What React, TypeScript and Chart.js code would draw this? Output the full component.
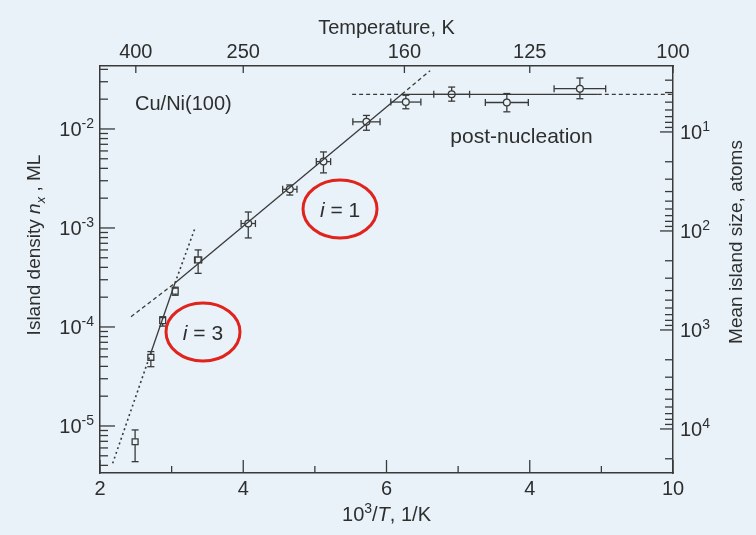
import React, { useEffect, useRef } from 'react';
import { Chart, registerables } from 'chart.js';

Chart.register(...registerables);

// Island density of Cu on Ni(100) versus inverse deposition temperature (10^3/T, 1/K)
const invTemperature = [2.49, 2.71, 2.875, 3.05, 3.37, 4.07, 4.65, 5.12, 5.72, 6.27, 6.91, 7.68, 8.7];
const islandDensity = [6.93e-6, 4.94e-5, 1.16e-4, 2.3e-4, 4.75e-4, 1.11e-3, 2.46e-3, 4.68e-3, 1.18e-2, 1.87e-2, 2.24e-2, 1.85e-2, 2.55e-2];
const densityUpper = [9.12e-6, 5.64e-5, 1.27e-4, 2.52e-4, 6.0e-4, 1.45e-3, 2.72e-3, 5.86e-3, 1.37e-2, 2.19e-2, 2.65e-2, 2.28e-2, 3.27e-2];
const densityLower = [4.36e-6, 3.97e-5, 1.02e-4, 2.09e-4, 3.48e-4, 7.93e-4, 2.15e-3, 3.6e-3, 9.7e-3, 1.6e-2, 1.91e-2, 1.49e-2, 2.02e-2];
const invTemperatureErr = [0, 0, 0, 0, 0.05, 0.1, 0.1, 0.1, 0.19, 0.21, 0.25, 0.3, 0.36];
const markerStyle = ['rect', 'rect', 'rect', 'rect', 'rect', 'circle', 'circle', 'circle', 'circle', 'circle', 'circle', 'circle', 'circle'];

// Nucleation regimes: critical nucleus i = 3, i = 1 and post-nucleation saturation
const i3Lower = [{ x: 2.177, y: 4.2e-6 }, { x: 2.712, y: 5.52e-5 }];
const i3Fit = [{ x: 2.712, y: 5.52e-5 }, { x: 3.047, y: 2.78e-4 }];
const i3Upper = [{ x: 3.047, y: 2.78e-4 }, { x: 3.327, y: 1.0e-3 }];
const i1Lower = [{ x: 2.433, y: 1.27e-4 }, { x: 3.047, y: 2.78e-4 }];
const i1Fit = [{ x: 3.047, y: 2.78e-4 }, { x: 6.214, y: 2.24e-2 }];
const i1Upper = [{ x: 6.214, y: 2.24e-2 }, { x: 6.609, y: 3.88e-2 }];
const plateauLeft = [{ x: 5.52, y: 2.24e-2 }, { x: 6.214, y: 2.24e-2 }];
const plateauFit = [{ x: 6.214, y: 2.24e-2 }, { x: 8.95, y: 2.24e-2 }];
const plateauRight = [{ x: 8.95, y: 2.24e-2 }, { x: 10, y: 2.24e-2 }];

// Axis ranges and ticks
const X_MIN = 2;
const X_MAX = 10;
const DENSITY_MIN = 3.35e-6;
const DENSITY_MAX = 0.04325;
const COVERAGE = 0.0933; // mean island size = coverage / density
const bottomTicks = [2, 4, 6, 8, 10];
const bottomTickLabels = ['2', '4', '6', '4', '10'];
const bottomMinorTicks = [3, 5, 7, 9];
const temperatureTicks = [400, 250, 160, 125, 100];
const densityDecades = [-5, -4, -3, -2];
const sizeDecades = [1, 2, 3, 4];

// Text placed in data coordinates
const regimeLabels = [
  { label: '1', x: 5.351, y: 1.556e-3 },
  { label: '3', x: 3.438, y: 8.9e-5 },
];
const systemLabel = { text: 'Cu/Ni(100)', x: 2.489, y: 1.83e-2 };
const plateauLabel = { text: 'post-nucleation', x: 7.885, y: 8.7e-3 };

const BG = '#e8f2f8';
const INK = '#2e2e2e';
const LINE = '#3a3a3a';
const RED = '#e0231d';
const FONT = '"Liberation Sans", Arial, Helvetica, sans-serif';

type Seg = { t: string; italic?: boolean; sup?: boolean; sub?: boolean };

const fontOf = (size: number, italic = false) => `${italic ? 'italic ' : ''}${size}px ${FONT}`;

function drawSegs(ctx: CanvasRenderingContext2D, segs: Seg[], x: number, y: number, size: number, align: 'left' | 'center' | 'right') {
  const small = Math.round(size * 0.68);
  const widths = segs.map((s) => {
    ctx.font = fontOf(s.sup || s.sub ? small : size, s.italic);
    return ctx.measureText(s.t).width;
  });
  const total = widths.reduce((a, b) => a + b, 0);
  let cx = align === 'left' ? x : align === 'center' ? x - total / 2 : x - total;
  const base = y + size * 0.36;
  ctx.textAlign = 'left';
  ctx.textBaseline = 'alphabetic';
  ctx.fillStyle = INK;
  segs.forEach((s, i) => {
    ctx.font = fontOf(s.sup || s.sub ? small : size, s.italic);
    const dy = s.sup ? -size * 0.42 : s.sub ? size * 0.25 : 0;
    ctx.fillText(s.t, cx, base + dy);
    cx += widths[i];
  });
}

function strokeLine(ctx: CanvasRenderingContext2D, x1: number, y1: number, x2: number, y2: number) {
  ctx.beginPath();
  ctx.moveTo(x1, y1);
  ctx.lineTo(x2, y2);
  ctx.stroke();
}

const POINTS_INDEX = 9;

const overlay = {
  id: 'overlay',
  beforeDraw(chart: any) {
    const ctx = chart.ctx as CanvasRenderingContext2D;
    ctx.save();
    ctx.fillStyle = BG;
    ctx.fillRect(0, 0, chart.width, chart.height);
    ctx.restore();
  },
  beforeDatasetDraw(chart: any, args: any) {
    if (args.index !== POINTS_INDEX) return;
    const ctx = chart.ctx as CanvasRenderingContext2D;
    const xs = chart.scales.x;
    const ys = chart.scales.y;
    ctx.save();
    ctx.strokeStyle = LINE;
    ctx.lineWidth = 1.3;
    invTemperature.forEach((t, i) => {
      const px = xs.getPixelForValue(t);
      const py = ys.getPixelForValue(islandDensity[i]);
      const hi = ys.getPixelForValue(densityUpper[i]);
      const lo = ys.getPixelForValue(densityLower[i]);
      strokeLine(ctx, px, hi, px, lo);
      strokeLine(ctx, px - 3.5, hi, px + 3.5, hi);
      strokeLine(ctx, px - 3.5, lo, px + 3.5, lo);
      const e = invTemperatureErr[i];
      if (e > 0) {
        const l = xs.getPixelForValue(t - e);
        const r = xs.getPixelForValue(t + e);
        strokeLine(ctx, l, py, r, py);
        strokeLine(ctx, l, py - 3.5, l, py + 3.5);
        strokeLine(ctx, r, py - 3.5, r, py + 3.5);
      }
    });
    ctx.restore();
  },
  afterDraw(chart: any) {
    const ctx = chart.ctx as CanvasRenderingContext2D;
    const { left, right, top, bottom } = chart.chartArea;
    const xs = chart.scales.x;
    const xt = chart.scales.xTop;
    const ys = chart.scales.y;
    const y2 = chart.scales.y2;
    ctx.save();
    ctx.strokeStyle = LINE;
    ctx.lineWidth = 1.3;

    // inward tick marks
    bottomTicks.forEach((v) => {
      const px = xs.getPixelForValue(v);
      strokeLine(ctx, px, bottom, px, bottom - 13);
    });
    bottomMinorTicks.forEach((v) => {
      const px = xs.getPixelForValue(v);
      strokeLine(ctx, px, bottom, px, bottom - 7);
    });
    temperatureTicks.forEach((T) => {
      const px = xt.getPixelForValue(1000 / T);
      strokeLine(ctx, px, top, px, top + 7);
    });
    for (let e = -7; e <= 0; e++) {
      for (let k = 1; k <= 9; k++) {
        const v = k * Math.pow(10, e);
        if (v <= DENSITY_MIN || v >= DENSITY_MAX) continue;
        const py = ys.getPixelForValue(v);
        strokeLine(ctx, left, py, left + (k === 1 ? 15 : 8), py);
      }
    }
    for (let e = 0; e <= 5; e++) {
      for (let k = 1; k <= 9; k++) {
        const v = k * Math.pow(10, e);
        if (v <= y2.min || v >= y2.max) continue;
        const py = y2.getPixelForValue(v);
        strokeLine(ctx, right, py, right - (k === 1 ? 13 : 8), py);
      }
    }

    // tick labels
    bottomTicks.forEach((v, i) => {
      drawSegs(ctx, [{ t: bottomTickLabels[i] }], xs.getPixelForValue(v), bottom + 15, 20, 'center');
    });
    temperatureTicks.forEach((T) => {
      drawSegs(ctx, [{ t: String(T) }], xt.getPixelForValue(1000 / T), top - 15, 20, 'center');
    });
    densityDecades.forEach((e) => {
      drawSegs(ctx, [{ t: '10' }, { t: `-${-e}`, sup: true }], left - 6, ys.getPixelForValue(Math.pow(10, e)), 20, 'right');
    });
    sizeDecades.forEach((e) => {
      drawSegs(ctx, [{ t: '10' }, { t: String(e), sup: true }], right + 7, y2.getPixelForValue(Math.pow(10, e)), 20, 'left');
    });

    // axis titles
    const cx = (left + right) / 2;
    drawSegs(ctx, [{ t: 'Temperature, K' }], cx, top - 39, 20, 'center');
    drawSegs(ctx, [{ t: '10' }, { t: '3', sup: true }, { t: '/' }, { t: 'T', italic: true }, { t: ', 1/K' }], cx, bottom + 41, 20, 'center');

    ctx.save();
    ctx.translate(left - 67, 245);
    ctx.rotate(-Math.PI / 2);
    drawSegs(ctx, [{ t: 'Island density ' }, { t: 'n', italic: true }, { t: 'x', italic: true, sub: true }, { t: ' , ML' }], 0, 0, 19, 'center');
    ctx.restore();

    ctx.save();
    ctx.translate(right + 62, 242);
    ctx.rotate(-Math.PI / 2);
    drawSegs(ctx, [{ t: 'Mean island size, atoms' }], 0, 0, 19, 'center');
    ctx.restore();

    // in-plot labels
    drawSegs(ctx, [{ t: systemLabel.text }], xs.getPixelForValue(systemLabel.x), ys.getPixelForValue(systemLabel.y), 20, 'left');
    drawSegs(ctx, [{ t: plateauLabel.text }], xs.getPixelForValue(plateauLabel.x), ys.getPixelForValue(plateauLabel.y), 21, 'center');

    regimeLabels.forEach((r) => {
      const px = xs.getPixelForValue(r.x);
      const py = ys.getPixelForValue(r.y);
      drawSegs(ctx, [{ t: 'i', italic: true }, { t: ' = ' + r.label }], px, py, 21, 'center');
      ctx.beginPath();
      ctx.ellipse(px, py, 37, 29, 0, 0, Math.PI * 2);
      ctx.strokeStyle = RED;
      ctx.lineWidth = 3;
      ctx.stroke();
    });
    ctx.restore();
  },
};

function lineSet(data: { x: number; y: number }[], dash: number[], width = 1.3) {
  return {
    type: 'line' as const,
    data,
    borderColor: LINE,
    borderWidth: width,
    borderDash: dash,
    pointRadius: 0,
    fill: false,
    tension: 0,
    xAxisID: 'x',
    yAxisID: 'y',
  };
}

export default function App() {
  const canvasRef = useRef<HTMLCanvasElement | null>(null);

  useEffect(() => {
    document.body.style.margin = '0';
    document.body.style.background = BG;
    const canvas = canvasRef.current;
    if (!canvas) return;

    const datasets: any[] = [
      lineSet(i3Lower, [2, 3], 1.6),
      lineSet(i3Fit, []),
      lineSet(i3Upper, [2, 3], 1.6),
      lineSet(i1Lower, [4, 3]),
      lineSet(i1Fit, []),
      lineSet(i1Upper, [4, 3]),
      lineSet(plateauLeft, [4, 3]),
      lineSet(plateauFit, []),
      lineSet(plateauRight, [4, 3]),
      {
        type: 'scatter',
        data: invTemperature.map((x, i) => ({ x, y: islandDensity[i] })),
        pointStyle: markerStyle,
        pointRadius: markerStyle.map((s) => (s === 'rect' ? 4.2 : 3.4)),
        pointBorderWidth: 1.3,
        pointBorderColor: LINE,
        pointBackgroundColor: BG,
        xAxisID: 'x',
        yAxisID: 'y',
      },
    ];

    const axisBorder = { display: true, color: LINE, width: 1.5 };
    const hidden = { display: false, drawTicks: false };

    const chart = new Chart(canvas, {
      type: 'scatter',
      data: { datasets },
      options: {
        animation: false,
        responsive: false,
        devicePixelRatio: 1,
        events: [],
        layout: { padding: 0 },
        plugins: { legend: { display: false }, tooltip: { enabled: false } },
        scales: {
          x: {
            type: 'linear', position: 'bottom', min: X_MIN, max: X_MAX, display: true,
            grid: hidden, border: axisBorder, ticks: { display: false },
            afterFit: (s: any) => { s.height = 62; },
          },
          xTop: {
            type: 'linear', position: 'top', min: X_MIN, max: X_MAX, display: true,
            grid: hidden, border: axisBorder, ticks: { display: false },
            afterFit: (s: any) => { s.height = 66; },
          },
          y: {
            type: 'logarithmic', position: 'left', min: DENSITY_MIN, max: DENSITY_MAX, display: true,
            grid: hidden, border: axisBorder, ticks: { display: false },
            afterFit: (s: any) => { s.width = 100; },
          },
          y2: {
            type: 'logarithmic', position: 'right', reverse: true,
            min: COVERAGE / DENSITY_MAX, max: COVERAGE / DENSITY_MIN, display: true,
            grid: hidden, border: axisBorder, ticks: { display: false },
            afterFit: (s: any) => { s.width = 83; },
          },
        },
      } as any,
      plugins: [overlay],
    });

    return () => chart.destroy();
  }, []);

  return (
    <div style={{ width: 756, height: 535, background: BG }}>
      <canvas ref={canvasRef} width={756} height={535} style={{ display: 'block' }} />
    </div>
  );
}
